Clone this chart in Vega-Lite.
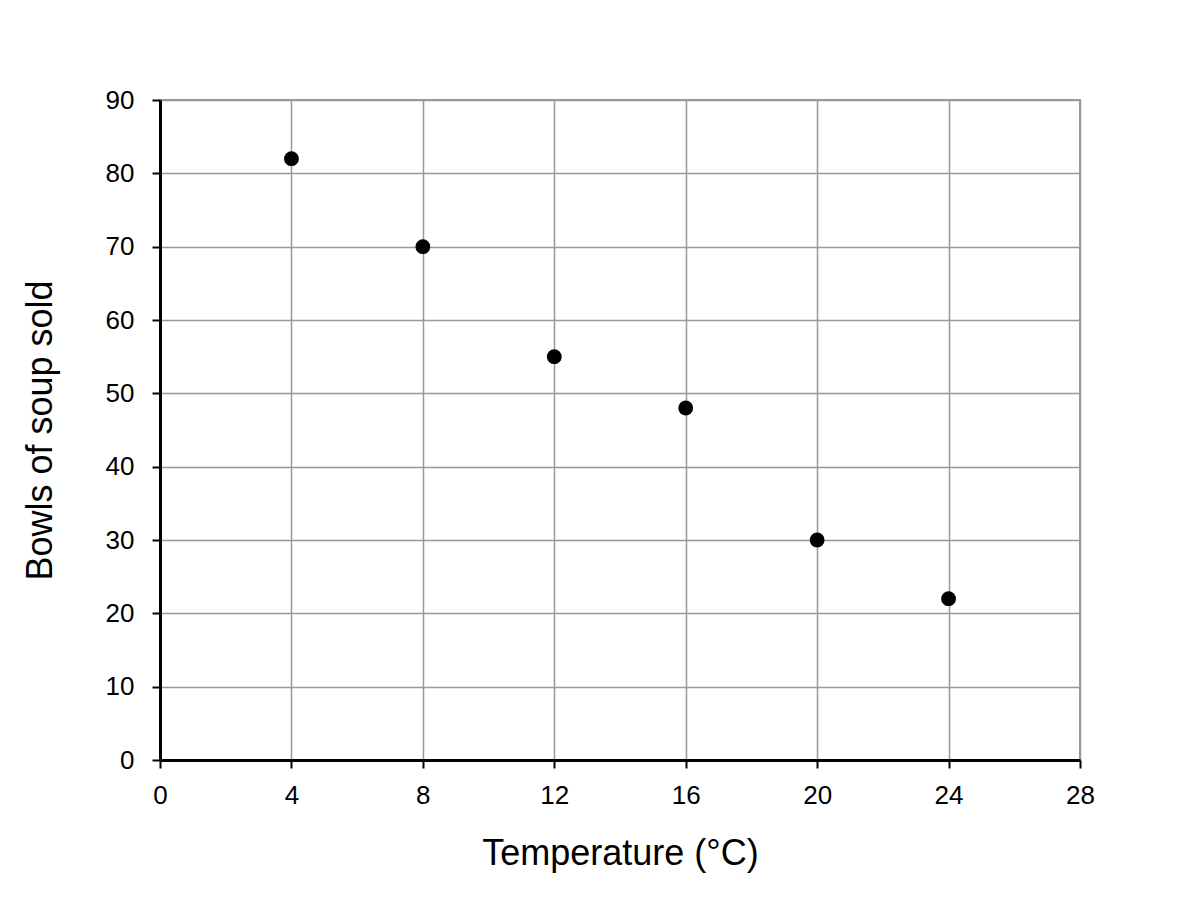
{
  "$schema": "https://vega.github.io/schema/vega-lite/v6.json",
  "width": 920,
  "height": 660,
  "autosize": {"type": "none"},
  "padding": {"left": 160, "top": 100, "right": 120, "bottom": 140},
  "background": "white",
  "config": {
    "view": {"stroke": "#999999", "strokeWidth": 2},
    "font": "Liberation Sans",
    "axis": {
      "labelFont": "Liberation Sans",
      "titleFont": "Liberation Sans",
      "titleFontWeight": "normal",
      "labelColor": "black",
      "titleColor": "black",
      "domainColor": "black",
      "domainWidth": 3,
      "tickColor": "black",
      "tickWidth": 2,
      "tickSize": 8,
      "gridColor": "#999999",
      "gridWidth": 1.5,
      "gridOpacity": 1,
      "labelFlush": false,
      "labelOverlap": false
    }
  },
  "data": {
    "values": [
      {"temperature": 4, "bowls": 82},
      {"temperature": 8, "bowls": 70},
      {"temperature": 12, "bowls": 55},
      {"temperature": 16, "bowls": 48},
      {"temperature": 20, "bowls": 30},
      {"temperature": 24, "bowls": 22}
    ]
  },
  "mark": {"type": "circle", "size": 220, "color": "black", "opacity": 1},
  "encoding": {
    "x": {
      "field": "temperature",
      "type": "quantitative",
      "title": "Temperature (°C)",
      "scale": {"domain": [0, 28], "nice": false},
      "axis": {"values": [0, 4, 8, 12, 16, 20, 24, 28], "labelFontSize": 26, "titleFontSize": 36, "labelPadding": 14, "titlePadding": 28}
    },
    "y": {
      "field": "bowls",
      "type": "quantitative",
      "title": "Bowls of soup sold",
      "scale": {"domain": [0, 90], "nice": false},
      "axis": {"values": [0, 10, 20, 30, 40, 50, 60, 70, 80, 90], "labelFontSize": 26, "titleFontSize": 36, "labelPadding": 18, "titlePadding": 46}
    }
  }
}
